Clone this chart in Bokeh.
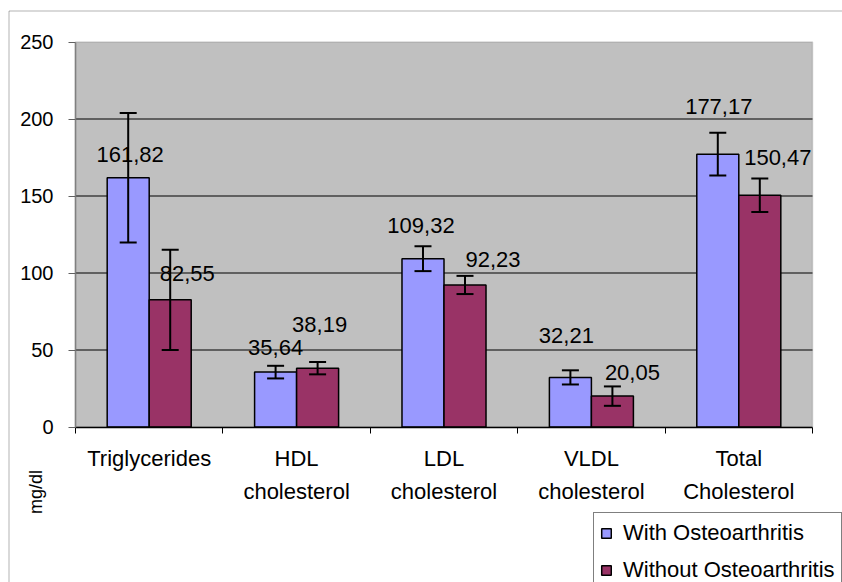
import math
from bokeh.plotting import figure
from bokeh.models import (Range1d, FixedTicker, ColumnDataSource, Whisker, TeeHead,
                          LabelSet, Label, BoxAnnotation)
from bokeh.core.properties import value
from bokeh.embed import file_html
from bokeh.resources import INLINE

# ---- data ----
categories = ["Triglycerides", "HDL\ncholesterol", "LDL\ncholesterol",
              "VLDL\ncholesterol", "Total\nCholesterol"]
series_names = ["With Osteoarthritis", "Without Osteoarthritis"]
with_oa = [161.82, 35.64, 109.32, 32.21, 177.17]
without_oa = [82.55, 38.19, 92.23, 20.05, 150.47]
with_err = [42.0, 4.1, 8.1, 4.6, 13.9]
without_err = [32.6, 4.0, 5.9, 6.3, 10.9]
y_ticks = [0, 50, 100, 150, 200, 250]

# ---- style ----
with_lbl_dx = [2, 0, -2, -4, 1]        # label offsets in pixels
with_lbl_dy = [23, 25, 33, 42, 48]
without_lbl_dx = [17, 2, 28, 20, 18]
without_lbl_dy = [26, 44, 25, 24, 38]
BLUE = "#9999FF"
RED = "#993366"
FONT = "Liberation Sans"
bw = 0.285
W, H = 842, 582
PL, PR, PT, PB = 75, 812, 41.5, 426.5    # plot-area edges in pixels

n = len(categories)
ymax = y_ticks[-1]
xu = (PR - PL) / n                 # pixels per category
yu = (PB - PT) / ymax              # pixels per mg/dl

def fmt(v):
    return f"{v:.2f}".replace(".", ",")

src_w = ColumnDataSource(dict(
    x=[i + 0.5 - bw / 2 for i in range(n)], top=with_oa,
    upper=[v + e for v, e in zip(with_oa, with_err)],
    lower=[v - e for v, e in zip(with_oa, with_err)],
    label=[fmt(v) for v in with_oa], dx=with_lbl_dx, dy=with_lbl_dy))
src_wo = ColumnDataSource(dict(
    x=[i + 0.5 + bw / 2 for i in range(n)], top=without_oa,
    upper=[v + e for v, e in zip(without_oa, without_err)],
    lower=[v - e for v, e in zip(without_oa, without_err)],
    label=[fmt(v) for v in without_oa], dx=without_lbl_dx, dy=without_lbl_dy))

p = figure(width=W, height=H, output_backend="svg", toolbar_location=None,
           title=None,
           x_range=Range1d(-PL / xu, (W - PL) / xu),
           y_range=Range1d(-(H - PB) / yu, ymax + PT / yu),
           min_border=0)
p.background_fill_color = "white"
p.border_fill_color = "white"
p.outline_line_color = None

# plot area
p.add_layout(BoxAnnotation(left=0, right=n, bottom=0, top=ymax,
                           fill_color="#C0C0C0", fill_alpha=1,
                           line_color="#808080", line_width=1.5, level="image"))
# outer chart border
p.add_layout(BoxAnnotation(left=-(PL - 8.5) / xu, right=(W + 20 - PL) / xu,
                           top=ymax + (PT - 10.5) / yu, bottom=-(H + 20 - PB) / yu,
                           fill_alpha=0, line_color="black", line_width=1))

# grid lines
p.xgrid.visible = False
p.ygrid.visible = False
gl = y_ticks[1:-1]
p.segment(x0=[0] * len(gl), x1=[n] * len(gl), y0=gl, y1=gl,
          line_color="black", line_width=1)

p.vbar(x="x", top="top", width=bw, source=src_w, fill_color=BLUE,
       line_color="black", line_width=1.5, legend_label=series_names[0])
p.vbar(x="x", top="top", width=bw, source=src_wo, fill_color=RED,
       line_color="black", line_width=1.5, legend_label=series_names[1])

for src in (src_w, src_wo):
    p.add_layout(Whisker(source=src, base="x", upper="upper", lower="lower",
                         line_color="black", line_width=2, level="overlay",
                         upper_head=TeeHead(size=17, line_width=2, line_color="black"),
                         lower_head=TeeHead(size=17, line_width=2, line_color="black")))
    p.add_layout(LabelSet(source=src, x="x", y="top", text="label",
                          x_offset="dx", y_offset="dy", text_align="center",
                          text_baseline="middle", text_font=value(FONT),
                          text_font_size="22px", text_color="black"))

# y axis, pinned to x = 0
p.yaxis.fixed_location = 0
p.yaxis.bounds = (0, ymax)
p.yaxis.ticker = FixedTicker(ticks=y_ticks)
p.yaxis.axis_line_color = "#808080"
p.yaxis.axis_line_width = 1.5
p.yaxis.major_tick_line_color = "#606060"
p.yaxis.major_tick_out = 7
p.yaxis.major_tick_in = 0
p.yaxis.minor_tick_out = 0
p.yaxis.major_label_text_font = FONT
p.yaxis.major_label_text_font_size = "20px"
p.yaxis.major_label_text_color = "black"
p.yaxis.major_label_standoff = 15

# x axis, pinned to y = 0
p.xaxis.fixed_location = 0
p.xaxis.bounds = (0, n)
p.xaxis.ticker = FixedTicker(ticks=[i + 0.5 for i in range(n)],
                             minor_ticks=list(range(n + 1)))
p.xaxis.major_label_overrides = {i + 0.5: categories[i] for i in range(n)}
p.xaxis.axis_line_color = "black"
p.xaxis.axis_line_width = 1.5
p.xaxis.major_tick_out = 0
p.xaxis.major_tick_in = 0
p.xaxis.minor_tick_out = 6
p.xaxis.minor_tick_in = 0
p.xaxis.minor_tick_line_color = "black"
p.xaxis.major_label_text_font = FONT
p.xaxis.major_label_text_font_size = "22px"
p.xaxis.major_label_text_color = "black"
p.xaxis.major_label_text_line_height = 1.3
p.xaxis.major_label_standoff = 13

# unit label
p.add_layout(Label(x=-(PL - 35.5) / xu, y=-(491.5 - PB) / yu, text="mg/dl",
                   angle=math.pi / 2, text_align="center", text_baseline="middle",
                   text_font=FONT, text_font_size="18px", text_color="black"))

# legend (its box runs off the right and bottom edges, as in the original)
lg = p.legend[0]
lg.location = (593, -8)
lg.margin = 0
lg.border_line_color = "black"
lg.border_line_width = 1
lg.background_fill_color = "white"
lg.background_fill_alpha = 1
lg.padding = 6
lg.spacing = 10
lg.label_height = 27
lg.glyph_height = 12
lg.glyph_width = 12
lg.label_standoff = 11
lg.label_text_font = FONT
lg.label_text_font_size = "22px"
lg.label_text_color = "black"

open("out.html", "w").write(file_html(p, INLINE))
